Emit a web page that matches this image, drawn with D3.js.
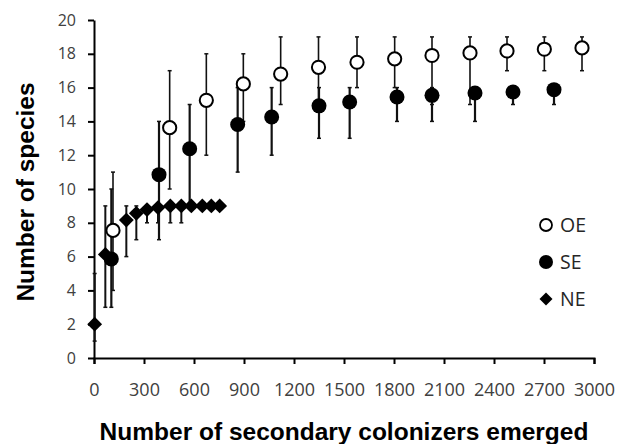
<!DOCTYPE html>
<html>
<head>
<meta charset="utf-8">
<script src="https://cdn.jsdelivr.net/npm/d3@7"></script>
<style>
  body { margin: 0; background: #fff; }
  .tick text { font-family: "Open Sans", sans-serif; fill: #404040; }
  .axis path, .axis line { stroke: #000; stroke-width: 2; }
  .title { font-family: "Liberation Sans", Arial, sans-serif; font-weight: bold; font-size: 24.5px; fill: #000; }
  .legend text { font-family: "Open Sans", sans-serif; font-size: 19.5px; fill: #262626; }
</style>
</head>
<body>
<div id="chart"></div>
<script>
// OE: open circles
var oeX  = [114, 454, 674, 896, 1120, 1347, 1578, 1804, 2028, 2256, 2478, 2702, 2928];
var oeY  = [7.55, 13.63, 15.25, 16.22, 16.8, 17.2, 17.5, 17.7, 17.9, 18.05, 18.17, 18.27, 18.35];
var oeHi = [11, 17, 18, 18, 19, 19, 19, 19, 19, 19, 19, 19, 19];
var oeLo = [4, 10, 12, 14, 15, 15, 16, 16, 15, 15, 17, 17, 17];

// SE: filled circles
var seX  = [104, 390, 574, 862, 1066, 1350, 1534, 1818, 2028, 2286, 2514, 2760];
var seY  = [5.86, 10.85, 12.38, 13.82, 14.26, 14.92, 15.15, 15.44, 15.54, 15.68, 15.74, 15.88];
var seHi = [10, 14, 15, 16, 16, 16, 16, 16, 16, 16, 16, 16];
var seLo = [3, 7, 9, 11, 12, 13, 13, 14, 14, 14, 15, 15];

// NE: diamonds
var neX  = [4, 68, 194, 254, 318, 384, 458, 524, 584, 650, 704, 754];
var neY  = [2.0, 6.13, 8.16, 8.56, 8.78, 8.9, 9.0, 9.0, 9.0, 9.0, 9.0, 9.0];
var neHi = [5, 9, 9, 9, 9, 9, 9, 9, 9, 9, 9, 9];
var neLo = [1, 3, 6, 7, 8, 8, 8, 8, 9, 9, 9, 9];

var xTicks = [0, 300, 600, 900, 1200, 1500, 1800, 2100, 2400, 2700, 3000];
var yTicks = [0, 2, 4, 6, 8, 10, 12, 14, 16, 18, 20];
var legendLabels = ["OE", "SE", "NE"];

function rows(xs, ys, hi, lo) {
  return xs.map(function(d, i) { return {x: d, y: ys[i], hi: hi[i], lo: lo[i]}; });
}
var oe = rows(oeX, oeY, oeHi, oeLo),
    se = rows(seX, seY, seHi, seLo),
    ne = rows(neX, neY, neHi, neLo);

var margin = {top: 20, right: 31, bottom: 86, left: 94},
    width = 625 - margin.left - margin.right,
    height = 444 - margin.top - margin.bottom;

var xScale = d3.scaleLinear().domain([0, 3000]).range([0, width]),
    yScale = d3.scaleLinear().domain([0, 20]).range([height, 0]);

var svg = d3.select("#chart").append("svg")
    .attr("width", 625)
    .attr("height", 444)
  .append("g")
    .attr("transform", "translate(" + margin.left + "," + margin.top + ")");

// axes
svg.append("g")
    .attr("class", "x axis")
    .attr("transform", "translate(0," + height + ")")
    .call(d3.axisBottom(xScale).tickValues(xTicks).tickFormat(d3.format("d"))
      .tickSize(6).tickSizeOuter(6).tickPadding(19))
    .selectAll("text").style("font-size", "18px");

svg.append("g")
    .attr("class", "y axis")
    .call(d3.axisLeft(yScale).tickValues(yTicks).tickSize(6).tickSizeOuter(0).tickPadding(12))
    .selectAll("text").style("font-size", "16px");

// error bars
function errorBars(data, w) {
  var g = svg.append("g");
  g.selectAll("line.bar").data(data).enter().append("line")
      .attr("x1", function(d) { return xScale(d.x); })
      .attr("x2", function(d) { return xScale(d.x); })
      .attr("y1", function(d) { return yScale(d.hi); })
      .attr("y2", function(d) { return yScale(d.lo); })
      .attr("stroke", "#111").attr("stroke-width", w);
  ["hi", "lo"].forEach(function(k) {
    g.selectAll("line.cap" + k).data(data).enter().append("line")
        .attr("x1", function(d) { return xScale(d.x) - 2; })
        .attr("x2", function(d) { return xScale(d.x) + 2; })
        .attr("y1", function(d) { return yScale(d[k]); })
        .attr("y2", function(d) { return yScale(d[k]); })
        .attr("stroke", "#111").attr("stroke-width", 1.5);
  });
}
errorBars(ne, 2);
errorBars(se, 2.2);
errorBars(oe, 1.6);

var diamond = d3.symbol().type(d3.symbolSquare).size(110);

svg.append("g").selectAll("path").data(ne).enter().append("path")
    .attr("d", diamond)
    .attr("transform", function(d) { return "translate(" + xScale(d.x) + "," + yScale(d.y) + ") rotate(45)"; })
    .attr("fill", "#000");

svg.append("g").selectAll("circle").data(se).enter().append("circle")
    .attr("cx", function(d) { return xScale(d.x); })
    .attr("cy", function(d) { return yScale(d.y); })
    .attr("r", 7.5)
    .attr("fill", "#000");

svg.append("g").selectAll("circle").data(oe).enter().append("circle")
    .attr("cx", function(d) { return xScale(d.x); })
    .attr("cy", function(d) { return yScale(d.y); })
    .attr("r", 6.6)
    .attr("fill", "#fff")
    .attr("stroke", "#000")
    .attr("stroke-width", 2);

// axis titles
svg.append("text")
    .attr("class", "title")
    .attr("text-anchor", "middle")
    .attr("x", width / 2)
    .attr("y", 420)
    .text("Number of secondary colonizers emerged");

svg.append("text")
    .attr("class", "title")
    .attr("text-anchor", "middle")
    .attr("transform", "translate(" + (34 - margin.left) + "," + (192 - margin.top) + ") rotate(-90)")
    .text("Number of species");

// legend
var legend = svg.append("g").attr("class", "legend")
    .attr("transform", "translate(" + (546 - margin.left) + "," + (225 - margin.top) + ")");
legendLabels.forEach(function(lab, i) {
  var row = legend.append("g").attr("transform", "translate(0," + (i * 37) + ")");
  if (lab === "OE") {
    row.append("circle").attr("r", 6).attr("fill", "#fff").attr("stroke", "#000").attr("stroke-width", 1.8);
  } else if (lab === "SE") {
    row.append("circle").attr("r", 7).attr("fill", "#000");
  } else {
    row.append("path").attr("d", d3.symbol().type(d3.symbolSquare).size(85)).attr("transform", "rotate(45)").attr("fill", "#000");
  }
  row.append("text").attr("x", 14).attr("y", 7).text(lab);
});
</script>
</body>
</html>
